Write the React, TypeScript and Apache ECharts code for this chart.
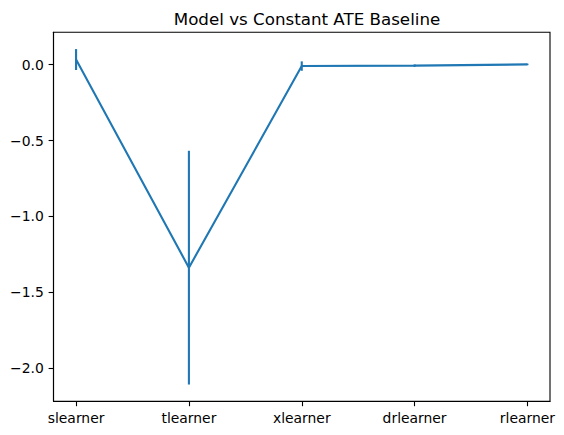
import React, { useEffect, useRef } from "react";
import * as echarts from "echarts";

const categories = ["slearner", "tlearner", "xlearner", "drlearner", "rlearner"];
const means = [0.034, -1.337, -0.009, -0.006, 0.002];
const errors = [0.069, 0.77, 0.031, 0.008, 0.005];
const yTicks = [-2.0, -1.5, -1.0, -0.5, 0.0];
const titleText = "Model vs Constant ATE Baseline";

const COLOR = "#1f77b4";
const FONT = "DejaVu Sans";

export default function App() {
  const ref = useRef<HTMLDivElement>(null);
  useEffect(() => {
    if (!ref.current) return;
    const chart = echarts.init(ref.current, undefined, { renderer: "svg" });
    const lineData = means.map((m, i) => [i, m]);
    const errData = means.map((m, i) => [i, m - errors[i], m + errors[i]]);
    const allLo = errData.map((d) => d[1]);
    const allHi = errData.map((d) => d[2]);
    const dMin = Math.min(...allLo);
    const dMax = Math.max(...allHi);
    const pad = (dMax - dMin) * 0.05;
    chart.setOption({
      animation: false,
      title: {
        text: titleText,
        left: 302,
        textAlign: "center",
        top: 5,
        textStyle: { fontFamily: FONT, fontSize: 16.7, fontWeight: "normal", color: "#000" },
      },
      grid: {
        left: 53.5,
        right: 14,
        top: 32.3,
        bottom: 33.7,
        show: true,
        borderColor: "#000",
        borderWidth: 1.1,
        backgroundColor: "transparent",
      },
      xAxis: {
        type: "value",
        min: -0.2,
        max: categories.length - 1 + 0.2,
        splitLine: { show: false },
        axisLine: { show: true, onZero: false, lineStyle: { color: "#000", width: 1.1 } },
        axisTick: {
          show: true,
          length: 4.9,
          lineStyle: { color: "#000", width: 1.1 },
          customValues: categories.map((_, i) => i),
        },
        axisLabel: {
          customValues: categories.map((_, i) => i),
          formatter: (v: number) => categories[Math.round(v)] ?? "",
          color: "#000",
          fontFamily: FONT,
          fontSize: 13.9,
          margin: 9.7,
        },
      },
      yAxis: {
        type: "value",
        min: dMin - pad,
        max: dMax + pad,
        splitLine: { show: false },
        axisLine: { show: true, onZero: false, lineStyle: { color: "#000", width: 1.1 } },
        axisTick: {
          show: true,
          length: 4.9,
          lineStyle: { color: "#000", width: 1.1 },
          customValues: yTicks,
        },
        axisLabel: {
          customValues: yTicks,
          formatter: (v: number) => v.toFixed(1).replace("-", "\u2212"),
          color: "#000",
          fontFamily: FONT,
          fontSize: 13.9,
          margin: 9.7,
        },
      },
      series: [
        {
          type: "line",
          data: lineData,
          showSymbol: false,
          lineStyle: { color: COLOR, width: 2.1 },
          itemStyle: { color: COLOR },
          z: 2,
        },
        {
          type: "custom",
          data: errData,
          z: 3,
          renderItem: (params: any, api: any) => {
            const x = api.value(0);
            const lo = api.coord([x, api.value(1)]);
            const hi = api.coord([x, api.value(2)]);
            return {
              type: "line",
              shape: { x1: lo[0], y1: lo[1], x2: hi[0], y2: hi[1] },
              style: { stroke: COLOR, lineWidth: 2.1 },
            };
          },
        },
      ],
    });
    return () => chart.dispose();
  }, []);
  return (
    <div
      ref={ref}
      style={{ position: "absolute", left: 0, top: 0, width: 564, height: 435 }}
    />
  );
}
